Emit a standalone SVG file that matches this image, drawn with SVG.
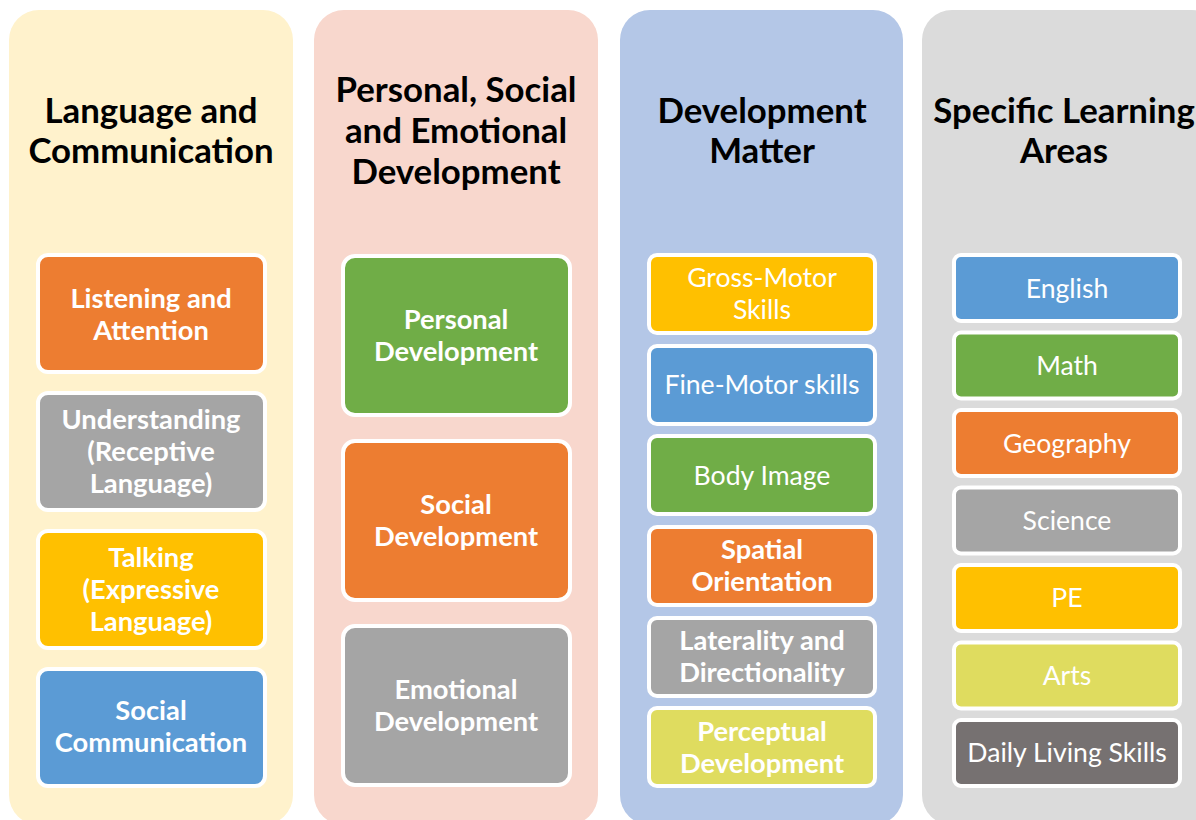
<svg xmlns="http://www.w3.org/2000/svg" width="1196" height="820" viewBox="0 0 1196 820">
<style>
.col{stroke:none}
.box{stroke:#fff;stroke-width:4}
.title{font-family:Lato,"Liberation Sans",sans-serif;font-weight:bold;font-size:34.8px;fill:#000;text-anchor:middle}
.lb{font-family:Lato,"Liberation Sans",sans-serif;font-weight:bold;font-size:27.3px;fill:#fff;text-anchor:middle}
.lr{font-family:Lato,"Liberation Sans",sans-serif;font-size:26.6px;fill:#fff;text-anchor:middle}
.orange{fill:#ED7D31}.gray{fill:#A5A5A5}.gold{fill:#FFC000}.blue{fill:#5B9BD5}.green{fill:#70AD47}.lime{fill:#DFDC5F}.dark{fill:#767171}
</style>
<rect width="1196" height="820" fill="#fff"/>
<g id="col-language">
<rect class="col" x="9" y="10" width="284" height="815" rx="30" fill="#FFF2CC"/>
<text class="title" x="151" y="123">Language and</text>
<text class="title" x="151" y="163">Communication</text>
</g>
<g id="col-pse">
<rect class="col" x="314" y="10" width="284" height="815" rx="30" fill="#F8D7CD"/>
<text class="title" x="456" y="102">Personal, Social</text>
<text class="title" x="456" y="143">and Emotional</text>
<text class="title" x="456" y="184">Development</text>
</g>
<g id="col-dm">
<rect class="col" x="620" y="10" width="283" height="815" rx="30" fill="#B4C7E7"/>
<text class="title" x="762" y="123">Development</text>
<text class="title" x="762" y="163">Matter</text>
</g>
<g id="col-sla">
<rect class="col" x="922" y="10" width="300" height="815" rx="30" fill="#DBDBDB"/>
<text class="title" x="1064" y="123">Specific Learning</text>
<text class="title" x="1064" y="163">Areas</text>
</g>

<g id="n-listening"><rect class="box orange" x="38" y="255" width="227" height="117" rx="10"/><text class="lb" x="151" y="308">Listening and</text><text class="lb" x="151" y="340">Attention</text></g>
<g id="n-understanding"><rect class="box gray" x="38" y="393" width="227" height="117" rx="10"/><text class="lb" x="151" y="429">Understanding</text><text class="lb" x="151" y="461">(Receptive</text><text class="lb" x="151" y="493">Language)</text></g>
<g id="n-talking"><rect class="box gold" x="38" y="531" width="227" height="117" rx="10"/><text class="lb" x="151" y="567">Talking</text><text class="lb" x="151" y="599">(Expressive</text><text class="lb" x="151" y="631">Language)</text></g>
<g id="n-socialcomm"><rect class="box blue" x="38" y="669" width="227" height="117" rx="10"/><text class="lb" x="151" y="720">Social</text><text class="lb" x="151" y="752">Communication</text></g>

<g id="n-personal"><rect class="box green" x="343" y="256" width="227" height="159" rx="12"/><text class="lb" x="456" y="329">Personal</text><text class="lb" x="456" y="361">Development</text></g>
<g id="n-social"><rect class="box orange" x="343" y="441" width="227" height="159" rx="12"/><text class="lb" x="456" y="514">Social</text><text class="lb" x="456" y="546">Development</text></g>
<g id="n-emotional"><rect class="box gray" x="343" y="626" width="227" height="159" rx="12"/><text class="lb" x="456" y="699">Emotional</text><text class="lb" x="456" y="731">Development</text></g>

<g id="n-gross"><rect class="box gold" x="649" y="255" width="226" height="78" rx="8"/><text class="lr" x="762" y="287">Gross-Motor</text><text class="lr" x="762" y="319">Skills</text></g>
<g id="n-fine"><rect class="box blue" x="649" y="346" width="226" height="78" rx="8"/><text class="lr" x="762" y="394">Fine-Motor skills</text></g>
<g id="n-body"><rect class="box green" x="649" y="436" width="226" height="78" rx="8"/><text class="lr" x="762" y="485">Body Image</text></g>
<g id="n-spatial"><rect class="box orange" x="649" y="527" width="226" height="78" rx="8"/><text class="lb" x="762" y="559">Spatial</text><text class="lb" x="762" y="591">Orientation</text></g>
<g id="n-laterality"><rect class="box gray" x="649" y="618" width="226" height="78" rx="8"/><text class="lb" x="762" y="650">Laterality and</text><text class="lb" x="762" y="682">Directionality</text></g>
<g id="n-perceptual"><rect class="box lime" x="649" y="708" width="226" height="78" rx="8"/><text class="lb" x="762" y="741">Perceptual</text><text class="lb" x="762" y="773">Development</text></g>

<g id="n-english"><rect class="box blue" x="954" y="255" width="226" height="66" rx="7"/><text class="lr" x="1067" y="298">English</text></g>
<g id="n-math"><rect class="box green" x="954" y="332.5" width="226" height="66" rx="7"/><text class="lr" x="1067" y="375">Math</text></g>
<g id="n-geography"><rect class="box orange" x="954" y="410" width="226" height="66" rx="7"/><text class="lr" x="1067" y="453">Geography</text></g>
<g id="n-science"><rect class="box gray" x="954" y="487.5" width="226" height="66" rx="7"/><text class="lr" x="1067" y="530">Science</text></g>
<g id="n-pe"><rect class="box gold" x="954" y="565" width="226" height="66" rx="7"/><text class="lr" x="1067" y="607">PE</text></g>
<g id="n-arts"><rect class="box lime" x="954" y="642.5" width="226" height="66" rx="7"/><text class="lr" x="1067" y="685">Arts</text></g>
<g id="n-daily"><rect class="box dark" x="954" y="720" width="226" height="66" rx="7"/><text class="lr" x="1067" y="762">Daily Living Skills</text></g>
<g id="connectors"/>
</svg>
